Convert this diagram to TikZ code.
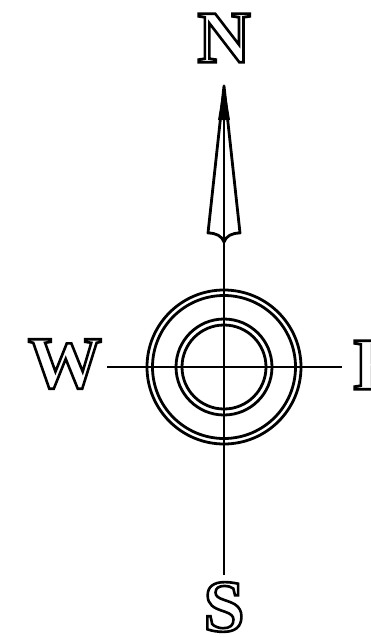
\documentclass[tikz,border=0pt]{standalone}
\usepackage{fontspec}
\setmainfont{Liberation Serif}
% hollow letters: stroke the glyph outlines only
\newcommand{\hollow}[1]{\special{pdf:literal direct 1 Tr 2.6 w}#1\special{pdf:literal direct 0 Tr}}

\begin{document}
\begin{tikzpicture}[x=1pt,y=-1pt,line width=2.8pt,
	point/.style={font=\bfseries\fontsize{74}{74}\selectfont,inner sep=0pt}]
\useasboundingbox (0,0) rectangle (371,637);
\def\r{77}
\coordinate (c) at (224,367);
% letters
\node[point] (n) at (224,38) {\hollow{N}};
\node[point] (w) at (65,364) {\hollow{W}};
\node[point,anchor=west] (e) at (352,365) {\hollow{E}};
\node[point] (s) at (224,607) {\hollow{S}};
% cross
\coordinate (top) at (224,86);
\coordinate (bot) at (224,575);
\coordinate (left) at (107,367);
\coordinate (right) at (342,367);
\draw (top) -- (bot);
\draw (left) -- (right);
% rings
\draw (c) circle (\r) (c) circle ({\r-5.5});
\draw (c) circle (48) (c) circle (42);
% arrow
\fill (top) ++(0,-2) -- (230,120) -- (218,120) -- cycle;
\draw[line join=round] (top) -- (240,233)
	.. controls (232,233) and (226,236) .. (224,242)
	.. controls (222,236) and (216,233) .. (208,233) -- cycle;
\end{tikzpicture}
\end{document}
